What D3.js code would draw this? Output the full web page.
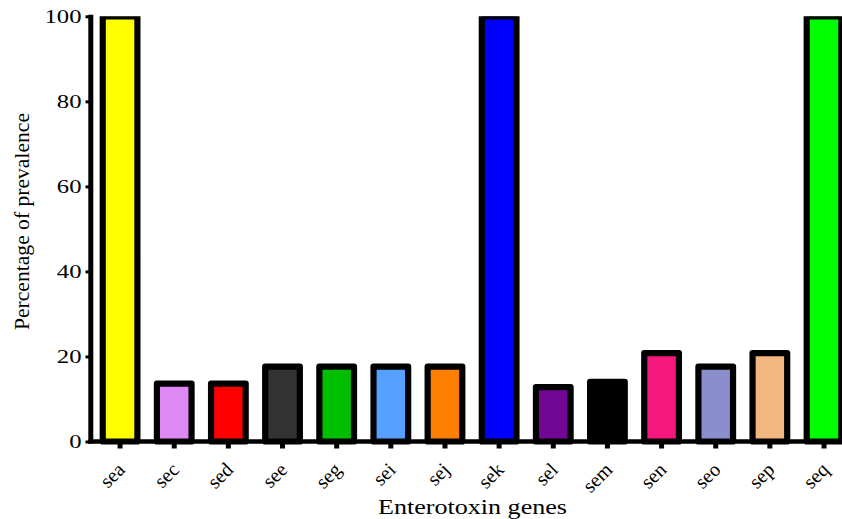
<!DOCTYPE html>
<html>
<head>
<meta charset="utf-8">
<script src="https://cdn.jsdelivr.net/npm/d3@7"></script>
<style>
  html, body { margin: 0; padding: 0; background: #fff; }
  svg { display: block; }
</style>
</head>
<body>
<svg id="chart" width="842" height="519"></svg>
<script>
// ---- data ----
const genes = ["sea","sec","sed","see","seg","sei","sej","sek","sel","sem","sen","seo","sep","seq"];
const prevalence = [100, 13.6, 13.6, 17.6, 17.6, 17.6, 17.6, 100, 12.8, 14, 20.8, 17.6, 20.8, 100];
const barColors = ["#FFFF00","#DF89F7","#FF0000","#333333","#00BF00","#56A0FF","#FF8000","#0000FF","#730795","#000000","#F5177D","#8B8ECD","#F1B77E","#00FF00"];
const yTicks = [0, 20, 40, 60, 80, 100];
const xTitle = "Enterotoxin genes";
const yTitle = "Percentage of prevalence";

// ---- layout ----
const FONT = "'Liberation Serif', 'Times New Roman', Times, serif";
const svg = d3.select("#chart").attr("font-family", FONT);
const y = d3.scaleLinear().domain([0, 100]).range([441.5, 16.3]);
const x = d3.scaleBand().domain(genes).range([93, 93 + 14 * 54.15]).padding(0);
const barW = x.bandwidth() * 0.64;
const sx = 1.3; // horizontal stretch of text as in reference

function stretch(sel, factor) {
  sel.each(function() {
    const w = this.getComputedTextLength();
    d3.select(this).attr("textLength", w * factor).attr("lengthAdjust", "spacingAndGlyphs");
  });
}

// clip at 100%
svg.append("defs").append("clipPath").attr("id", "plotclip")
  .append("rect").attr("x", 0).attr("y", y(100)).attr("width", 842).attr("height", 519 - y(100));

// bars
svg.append("g").attr("clip-path", "url(#plotclip)")
  .selectAll("rect").data(genes).join("rect")
  .attr("x", d => x(d) + x.bandwidth() / 2 - barW / 2)
  .attr("width", barW)
  .attr("y", (d, i) => y(prevalence[i]))
  .attr("height", (d, i) => y(0) - y(prevalence[i]))
  .attr("fill", (d, i) => barColors[i])
  .attr("stroke", "#000")
  .attr("stroke-width", 6.2)
  .attr("stroke-linejoin", "round");

// y axis
const yAxis = d3.axisLeft(y).tickValues(yTicks).tickSize(5).tickPadding(4).tickFormat(d3.format("d"));
const gy = svg.append("g").attr("transform", "translate(90.5,0)").call(yAxis);
gy.attr("font-family", FONT);
gy.select(".domain").remove();
gy.selectAll(".tick line").attr("stroke", "#000").attr("stroke-width", 3);
gy.selectAll(".tick text").attr("font-size", 19).attr("font-family", FONT).attr("dy", "0.34em").call(stretch, sx);
svg.append("line").attr("x1", 90.8).attr("x2", 90.8).attr("y1", y(100) - 1.5).attr("y2", y(0) + 2)
  .attr("stroke", "#000").attr("stroke-width", 5);

// x axis
const xAxis = d3.axisBottom(x).tickSize(7).tickPadding(0).tickFormat("");
const gx = svg.append("g").attr("transform", `translate(0,${y(0)})`).call(xAxis);
gx.select(".domain").remove();
gx.selectAll(".tick line").attr("stroke", "#000").attr("stroke-width", 5);
gx.selectAll(".tick text").remove();

svg.append("g").attr("class", "xlabels")
  .selectAll("text").data(genes).join("text")
  .attr("font-size", 20)
  .attr("font-family", FONT)
  .attr("fill", "#000")
  .attr("text-anchor", "end")
  .attr("transform", d => `translate(${x(d) + x.bandwidth() / 2 + 6},${y(0) + 29.5}) rotate(-45)`)
  .text(d => d);

svg.append("line").attr("x1", 88.3).attr("x2", 841).attr("y1", y(0)).attr("y2", y(0))
  .attr("stroke", "#000").attr("stroke-width", 4.5);

// titles
svg.append("text").attr("x", 472.5).attr("y", 514).attr("text-anchor", "middle")
  .attr("font-size", 22).attr("font-family", FONT).text(xTitle).call(stretch, 189 / 159.5);
svg.append("text").attr("transform", "translate(28.5,221.5) rotate(-90)").attr("text-anchor", "middle")
  .attr("font-size", 21.6).attr("font-family", FONT).text(yTitle);
</script>
</body>
</html>
